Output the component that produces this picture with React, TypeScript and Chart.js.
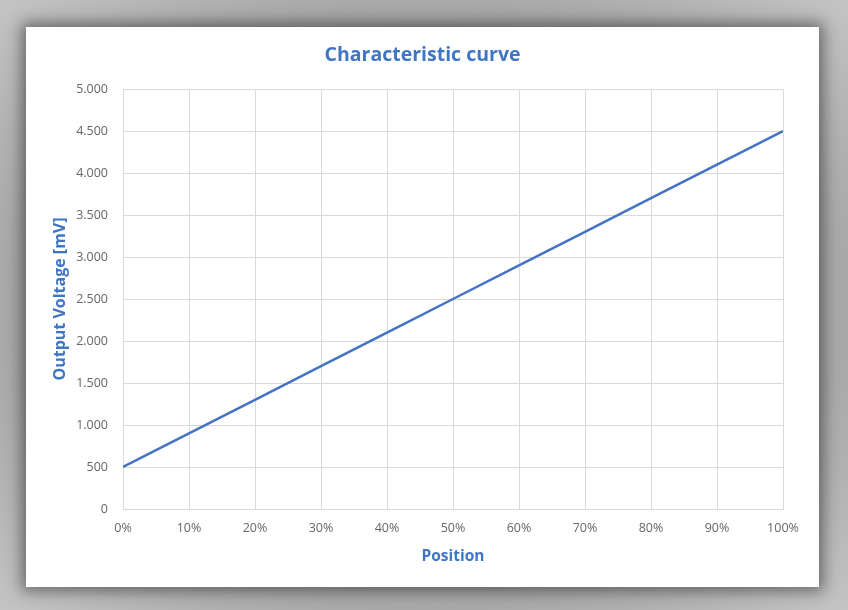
import React, { useEffect, useRef } from "react";
import { Chart, registerables } from "chart.js";

Chart.register(...registerables);

const positions = [0, 10, 20, 30, 40, 50, 60, 70, 80, 90, 100];
const voltages = [500, 900, 1300, 1700, 2100, 2500, 2900, 3300, 3700, 4100, 4500];
const titleText = "Characteristic curve";
const xTitle = "Position";
const yTitle = "Output Voltage [mV]";

const fmt = (v: number) => {
  const s = Math.round(v).toString();
  return s.replace(/\B(?=(\d{3})+(?!\d))/g, ".");
};

export default function App() {
  const ref = useRef<HTMLCanvasElement | null>(null);
  useEffect(() => {
    if (!ref.current) return;
    const blue = "#4472C4";
    const textBlue = "#3F76C4";
    const gray = "#666666";
    const chart = new Chart(ref.current, {
      type: "line",
      data: {
        datasets: [
          {
            data: positions.map((p, i) => ({ x: p, y: voltages[i] })),
            borderColor: blue,
            borderWidth: 2.5,
            pointRadius: 0,
            tension: 0,
          },
        ],
      },
      options: {
        animation: false,
        responsive: false,
        maintainAspectRatio: false,
        layout: { padding: 0 },
        plugins: {
          legend: { display: false },
          tooltip: { enabled: false },
          title: {
            display: true,
            text: titleText,
            color: textBlue,
            font: { family: "'Open Sans', sans-serif", size: 19.5, weight: "bold" },
            padding: { top: 16.3, bottom: 22.3 },
          },
        },
        scales: {
          x: {
            type: "linear",
            min: 0,
            max: 100,
            afterFit: (s: any) => {
              s.height = 78;
            },
            ticks: {
              stepSize: 10,
              color: gray,
              padding: 12,
              maxRotation: 0,
              font: { family: "'Open Sans', sans-serif", size: 12.5 },
              callback: (v: any) => v + "%",
            },
            grid: { color: "#d9d9d9", drawTicks: false, lineWidth: 1 },
            border: { color: "#d9d9d9" },
            title: {
              display: true,
              text: xTitle,
              color: textBlue,
              font: { family: "'Open Sans', sans-serif", size: 15.5, weight: "bold" },
              padding: { top: 0, bottom: 20.7 },
            },
          },
          y: {
            min: 0,
            max: 5000,
            afterFit: (s: any) => {
              s.width = 97;
            },
            ticks: {
              stepSize: 500,
              color: gray,
              padding: 15,
              font: { family: "'Open Sans', sans-serif", size: 12.5 },
              callback: (v: any) => fmt(Number(v)),
            },
            grid: { color: "#d9d9d9", drawTicks: false, lineWidth: 1 },
            border: { color: "#d9d9d9" },
            title: {
              display: true,
              text: yTitle,
              color: textBlue,
              font: { family: "'Open Sans', sans-serif", size: 16, weight: "bold" },
              padding: { top: 24.4, bottom: 0 },
            },
          },
          yR: {
            position: "right",
            display: true,
            min: 0,
            max: 5000,
            afterFit: (s: any) => {
              s.width = 36;
            },
            ticks: { display: false },
            grid: { display: false, drawTicks: false },
            border: { display: false },
          },
        },
      },
    });
    return () => chart.destroy();
  }, []);

  return (
    <div
      style={{
        position: "absolute",
        left: 0,
        top: 0,
        width: 848,
        height: 610,
        background: "radial-gradient(ellipse at center, #8a8a8a 0%, #a8a8a8 70%, #c4c4c4 100%)",
        overflow: "hidden",
      }}
    >
      <div
        style={{
          position: "absolute",
          left: 26,
          top: 27,
          width: 793,
          height: 560,
          background: "#ffffff",
          boxShadow: "0 0 14px 4px rgba(0,0,0,0.45)",
        }}
      >
        <canvas ref={ref} width={793} height={560} style={{ display: "block" }} />
      </div>
    </div>
  );
}
